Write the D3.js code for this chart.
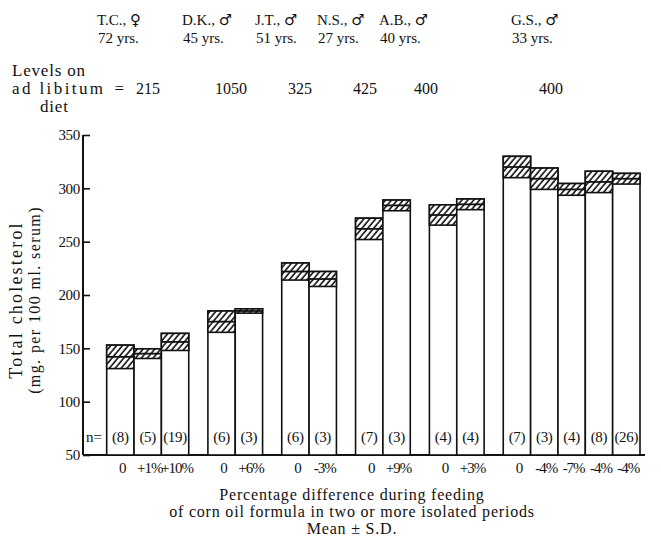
<!DOCTYPE html>
<html>
<head>
<meta charset="utf-8">
<script src="https://cdn.jsdelivr.net/npm/d3@7"></script>
<style>
  body { margin: 0; background: #fff; }
  svg text { font-family: "Liberation Serif", serif; fill: #111; }
  .sym { font-family: "DejaVu Sans", sans-serif; }
</style>
</head>
<body>
<div id="chart"></div>
<script>
// subjects (one group of bars each)
const subjects = ["T.C.,", "D.K.,", "J.T.,", "N.S.,", "A.B.,", "G.S.,"];
const sexes = ["\u2640", "\u2642", "\u2642", "\u2642", "\u2642", "\u2642"];
const ages = ["72 yrs.", "45 yrs.", "51 yrs.", "27 yrs.", "40 yrs.", "33 yrs."];
const adLibLevels = ["215", "1050", "325", "425", "400", "400"];
const headerX = [97, 182, 255, 317, 379, 511];     // left edge of subject label
const levelX = [160, 231, 300, 365, 426, 551];     // level label anchor

// bars
const barGroup = [0, 0, 0, 1, 1, 2, 2, 3, 3, 4, 4, 5, 5, 5, 5, 5];
const pctLabels = ["0", "+1%", "+10%", "0", "+6%", "0", "-3%", "0", "+9%", "0", "+3%", "0", "-4%", "-7%", "-4%", "-4%"];
const nValues = [8, 5, 19, 6, 3, 6, 3, 7, 3, 4, 4, 7, 3, 4, 8, 26];
const means = [142, 145, 156, 175, 185, 222, 215, 262, 284, 275, 285, 320, 309, 299, 306, 309];
const sds = [11, 4.5, 8, 10, 2, 8, 7, 10, 5, 9.5, 5, 10, 10, 5.5, 10, 5];

const yTicks = [50, 100, 150, 200, 250, 300, 350];

const W = 661, H = 539;
const svg = d3.select("#chart").append("svg")
  .attr("width", W).attr("height", H);

// diagonal hatching
const defs = svg.append("defs");
const pat = defs.append("pattern")
  .attr("id", "hatch")
  .attr("patternUnits", "userSpaceOnUse")
  .attr("width", 4.5).attr("height", 4.5)
  .attr("patternTransform", "rotate(40)");
pat.append("rect").attr("width", 4.5).attr("height", 4.5).attr("fill", "#fff");
pat.append("line")
  .attr("x1", 1).attr("y1", 0).attr("x2", 1).attr("y2", 4.5)
  .attr("stroke", "#111").attr("stroke-width", 1.6);

// slot layout: each bar is 1 unit, gap between subjects 0.7 units
const gapUnits = 0.7;
const slots = barGroup.map((g, i) => i + g * gapUnits);
const totalUnits = barGroup.length + (subjects.length - 1) * gapUnits;

const x = d3.scaleLinear().domain([0, totalUnits]).range([106.7, 640]);
const bw = x(1) - x(0);
const y = d3.scaleLinear().domain([50, 350]).range([455, 135]);

const axisX = 83;

// y axis (ticks pointing inward)
const yAxis = svg.append("g")
  .attr("transform", `translate(${axisX},0)`)
  .call(d3.axisRight(y).tickValues(yTicks).tickSize(7).tickFormat(""));
yAxis.select(".domain").remove();
yAxis.selectAll("line").attr("stroke", "#111").attr("stroke-width", 1.6);
svg.append("line")
  .attr("x1", axisX).attr("x2", axisX)
  .attr("y1", y(350)).attr("y2", y(50))
  .attr("stroke", "#111").attr("stroke-width", 2);

svg.append("g").selectAll("text")
  .data(yTicks).join("text")
  .attr("x", axisX - 3).attr("y", d => y(d))
  .attr("dy", "0.35em")
  .attr("text-anchor", "end")
  .style("font-size", "15px")
  .style("letter-spacing", "-0.3px")
  .text(d => d);

// x axis baseline
svg.append("line")
  .attr("x1", axisX).attr("x2", 645)
  .attr("y1", y(50)).attr("y2", y(50))
  .attr("stroke", "#111").attr("stroke-width", 2);

// bars
const bars = svg.append("g").selectAll("g")
  .data(means.map((m, i) => ({ m: m, sd: sds[i], i: i })))
  .join("g");

bars.append("rect")
  .attr("x", d => x(slots[d.i]))
  .attr("width", bw)
  .attr("y", d => y(d.m + d.sd))
  .attr("height", d => y(50) - y(d.m + d.sd))
  .attr("fill", "#fff")
  .attr("stroke", "#111").attr("stroke-width", 1.6);

bars.append("rect")
  .attr("x", d => x(slots[d.i]))
  .attr("width", bw)
  .attr("y", d => y(d.m + d.sd))
  .attr("height", d => y(d.m - d.sd) - y(d.m + d.sd))
  .attr("fill", "url(#hatch)")
  .attr("stroke", "#111").attr("stroke-width", 1.6);

bars.append("line")
  .attr("x1", d => x(slots[d.i])).attr("x2", d => x(slots[d.i]) + bw)
  .attr("y1", d => y(d.m)).attr("y2", d => y(d.m))
  .attr("stroke", "#111").attr("stroke-width", 1.8);

// n counts inside the bars
bars.append("text")
  .attr("x", d => x(slots[d.i]) + bw / 2)
  .attr("y", 437).attr("dy", "0.35em")
  .attr("text-anchor", "middle")
  .style("font-size", "15px")
  .style("letter-spacing", "-0.3px")
  .text(d => "(" + nValues[d.i] + ")");

svg.append("text")
  .attr("x", 86).attr("y", 437).attr("dy", "0.35em")
  .style("font-size", "15px")
  .text("n=");

// percentage labels under bars
svg.append("g").selectAll("text")
  .data(pctLabels).join("text")
  .attr("x", (d, i) => x(slots[i]) + bw / 2 + 2)
  .attr("y", 468).attr("dy", "0.35em")
  .attr("text-anchor", "middle")
  .style("font-size", "15px")
  .style("letter-spacing", "-1px")
  .text(d => d);

// header: subject, age
const header = svg.append("g");
const subj = header.selectAll(".subj").data(subjects).join("text")
  .attr("class", "subj")
  .attr("x", (d, i) => headerX[i]).attr("y", 25)
  .style("font-size", "15px");
subj.append("tspan").text(d => d + " ");
subj.append("tspan").attr("class", "sym").style("font-size", "15px").text((d, i) => sexes[i]);

header.selectAll(".age").data(ages).join("text")
  .attr("class", "age")
  .attr("x", (d, i) => headerX[i] + 1).attr("y", 43)
  .style("font-size", "15px")
  .text(d => d);

// levels on ad libitum diet
header.append("text").attr("x", 12).attr("y", 76)
  .style("font-size", "17px").style("letter-spacing", "0.8px").text("Levels on");
header.append("text").attr("x", 12).attr("y", 94)
  .style("font-size", "17px").style("letter-spacing", "2.4px").text("ad libitum");
header.append("text").attr("x", 124).attr("y", 94)
  .attr("text-anchor", "end").style("font-size", "17px").text("=");
header.append("text").attr("x", 40).attr("y", 112)
  .style("font-size", "17px").style("letter-spacing", "0.8px").text("diet");
header.selectAll(".lvl").data(adLibLevels).join("text")
  .attr("class", "lvl")
  .attr("x", (d, i) => levelX[i]).attr("y", 94)
  .attr("text-anchor", (d, i) => i === 0 ? "end" : "middle")
  .style("font-size", "16px")
  .text(d => d);

// y axis title
const yTitle = svg.append("g").attr("transform", "translate(0,300)");
yTitle.append("text")
  .attr("transform", "translate(22,0) rotate(-90)")
  .attr("text-anchor", "middle")
  .style("font-size", "18px")
  .style("letter-spacing", "2.2px")
  .text("Total cholesterol");
yTitle.append("text")
  .attr("transform", "translate(40,0) rotate(-90)")
  .attr("text-anchor", "middle")
  .style("font-size", "16px")
  .style("letter-spacing", "1.4px")
  .text("(mg. per 100 ml. serum)");

// x axis title
const xTitle = ["Percentage difference during feeding",
  "of corn oil formula in two or more isolated periods",
  "Mean \u00b1 S.D."];
svg.append("g").selectAll("text")
  .data(xTitle).join("text")
  .attr("x", 352).attr("y", (d, i) => 500 + i * 17)
  .attr("text-anchor", "middle")
  .style("font-size", "16px")
  .style("letter-spacing", "0.8px")
  .text(d => d);
</script>
</body>
</html>
